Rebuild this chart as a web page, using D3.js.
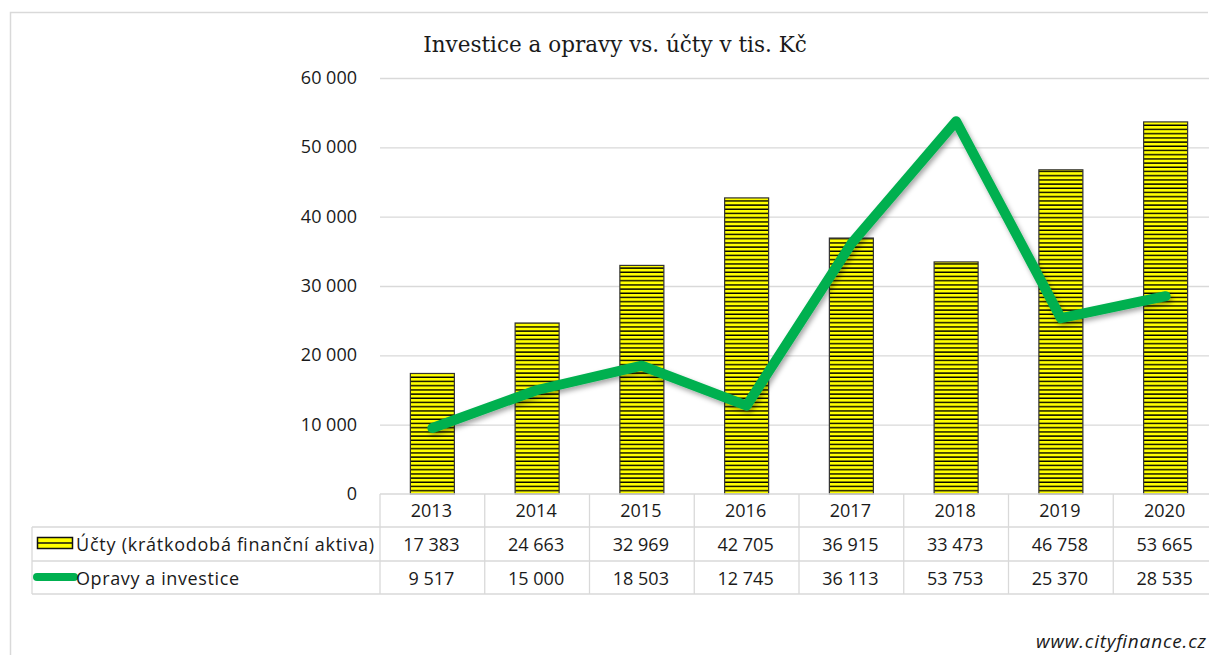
<!DOCTYPE html>
<html>
<head>
<meta charset="utf-8">
<script src="https://cdn.jsdelivr.net/npm/d3@7"></script>
<style>
  body { margin: 0; background: #fff; }
  text { font-family: "Open Sans", "Noto Sans", sans-serif; fill: #1a1a1a; }
</style>
</head>
<body>
<div id="chart"></div>
<script>
// data
var years = ["2013", "2014", "2015", "2016", "2017", "2018", "2019", "2020"];
var ucty = [17383, 24663, 32969, 42705, 36915, 33473, 46758, 53665];
var opravy = [9517, 15000, 18503, 12745, 36113, 53753, 25370, 28535];
var yTicks = [0, 10000, 20000, 30000, 40000, 50000, 60000];
var seriesNames = ["Účty (krátkodobá finanční aktiva)", "Opravy a investice"];

var W = 1209, H = 655;
var plotL = 380, plotR = 1218, plotT = 78, plotB = 494;

var svg = d3.select("#chart").append("svg")
    .attr("width", W).attr("height", H);

// stripe pattern for bars
var defs = svg.append("defs");
var pat = defs.append("pattern")
    .attr("id", "stripes")
    .attr("patternUnits", "userSpaceOnUse")
    .attr("width", 8).attr("height", 4.2);
pat.append("rect").attr("width", 8).attr("height", 4.2).attr("fill", "#ffff00");
pat.append("line").attr("x1", 0).attr("x2", 8).attr("y1", 3.5).attr("y2", 3.5)
    .attr("stroke", "#000").attr("stroke-width", 1.4);

var shadow = defs.append("filter").attr("id", "shadow")
    .attr("x", "-10%").attr("y", "-10%").attr("width", "120%").attr("height", "130%");
shadow.append("feDropShadow").attr("dx", 2).attr("dy", 3).attr("stdDeviation", 2.5)
    .attr("flood-color", "#000").attr("flood-opacity", 0.35);

// outer frame
svg.append("path")
    .attr("d", "M10.5,655 L10.5,12.5 L1208,12.5")
    .attr("fill", "none").attr("stroke", "#d9d9d9").attr("stroke-width", 1.5);

var x = d3.scaleBand().domain(years).range([plotL, plotR]);
var y = d3.scaleLinear().domain([0, 60000]).range([plotB, plotT]);

// gridlines
svg.append("g").selectAll("line").data(yTicks.slice(1)).enter().append("line")
    .attr("x1", plotL).attr("x2", W)
    .attr("y1", function(d) { return y(d) + 0.5; })
    .attr("y2", function(d) { return y(d) + 0.5; })
    .attr("stroke", "#d9d9d9").attr("stroke-width", 1.3);

var fmt = function(v) { return d3.format(",")(v).replace(/,/g, " "); };

// y labels
svg.append("g").selectAll("text").data(yTicks).enter().append("text")
    .attr("x", 357).attr("y", function(d) { return y(d) + 6; })
    .attr("text-anchor", "end").attr("font-size", 18)
    .text(fmt);

// bars
var bw = 44;
svg.append("g").selectAll("rect").data(ucty).enter().append("rect")
    .attr("x", function(d, i) { return x(years[i]) + x.bandwidth() / 2 - bw / 2; })
    .attr("y", function(d) { return y(d); })
    .attr("width", bw)
    .attr("height", function(d) { return plotB - y(d); })
    .attr("fill", "url(#stripes)")
    .attr("stroke", "#333").attr("stroke-width", 1.2);

// line
var line = d3.line()
    .x(function(d, i) { return x(years[i]) + x.bandwidth() / 2; })
    .y(function(d) { return y(d); });
svg.append("path").datum(opravy)
    .attr("d", line)
    .attr("fill", "none").attr("stroke", "#00b050").attr("stroke-width", 10)
    .attr("stroke-linejoin", "round").attr("stroke-linecap", "round")
    .attr("filter", "url(#shadow)");

// title
svg.append("text")
    .attr("x", 615).attr("y", 52).attr("text-anchor", "middle")
    .style("font-family", "'DejaVu Serif', 'Liberation Serif', serif")
    .attr("font-size", 21.5).text("Investice a opravy vs. účty v tis. Kč");

// data table
var rowY = [494, 527, 561, 594];
var tg = svg.append("g").attr("stroke", "#d9d9d9").attr("stroke-width", 1.3);
tg.append("line").attr("x1", plotL).attr("x2", W).attr("y1", rowY[0]).attr("y2", rowY[0]);
rowY.slice(1).forEach(function(ry) {
  tg.append("line").attr("x1", 32).attr("x2", W).attr("y1", ry).attr("y2", ry);
});
tg.append("line").attr("x1", 32).attr("x2", 32).attr("y1", rowY[1]).attr("y2", rowY[3]);
years.forEach(function(yr) {
  tg.append("line").attr("x1", x(yr)).attr("x2", x(yr)).attr("y1", rowY[0]).attr("y2", rowY[3]);
});

svg.append("g").selectAll("text").data(years).enter().append("text")
    .attr("x", function(d) { return x(d) + x.bandwidth() / 2 - 1; })
    .attr("y", 517).attr("text-anchor", "middle").attr("font-size", 18)
    .text(function(d) { return d; });
[ucty, opravy].forEach(function(arr, r) {
  svg.append("g").selectAll("text").data(arr).enter().append("text")
      .attr("x", function(d, i) { return x(years[i]) + x.bandwidth() / 2 - 1; })
      .attr("y", 551 + r * 34).attr("text-anchor", "middle").attr("font-size", 18)
      .text(fmt);
});

// legend keys
svg.append("rect").attr("x", 37.5).attr("y", 537.5).attr("width", 35).attr("height", 11)
    .attr("fill", "#ffff00").attr("stroke", "#111").attr("stroke-width", 1.5);
svg.append("line").attr("x1", 38).attr("x2", 72).attr("y1", 543).attr("y2", 543)
    .attr("stroke", "#111").attr("stroke-width", 1.5);
svg.append("line").attr("x1", 37).attr("x2", 74).attr("y1", 577).attr("y2", 577)
    .attr("stroke", "#00b050").attr("stroke-width", 8).attr("stroke-linecap", "round");
var legendLen = [298, 163];
seriesNames.forEach(function(n, i) {
  svg.append("text").attr("x", 76).attr("y", 551 + i * 34).attr("font-size", 18)
      .attr("textLength", legendLen[i]).text(n);
});

// watermark
svg.append("text").attr("x", 1206).attr("y", 648).attr("text-anchor", "end")
    .attr("font-size", 19).attr("textLength", 170)
    .style("font-style", "italic").text("www.cityfinance.cz");
</script>
</body>
</html>
